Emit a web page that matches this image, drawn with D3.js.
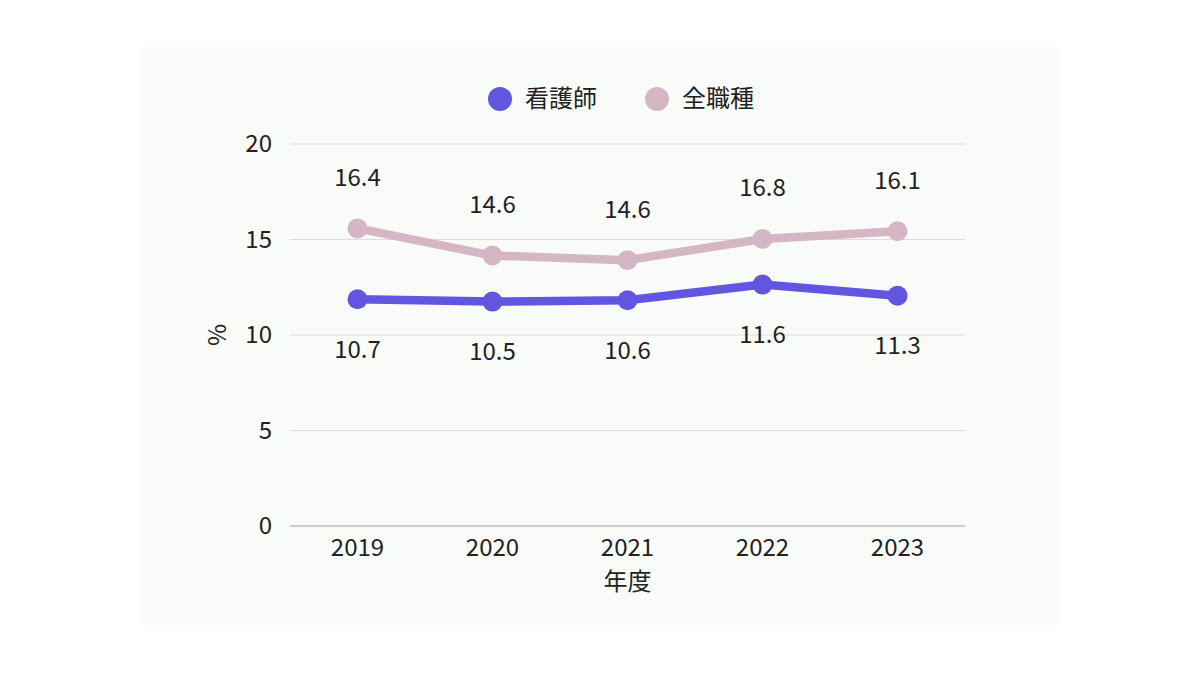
<!DOCTYPE html>
<html>
<head>
<meta charset="utf-8">
<script src="https://cdn.jsdelivr.net/npm/d3@7"></script>
<style>
  body { margin: 0; background: #ffffff; }
  text { font-family: "Noto Sans CJK JP", "Noto Sans", sans-serif; fill: #222; }
</style>
</head>
<body>
<div class="chart"></div>
<script>
// Data
const years = ["2019", "2020", "2021", "2022", "2023"];
// plotted positions as drawn in the picture
const nurseValues = [11.87, 11.75, 11.82, 12.64, 12.06];
const allValues = [15.58, 14.16, 13.92, 15.03, 15.43];
// printed value labels
const nurseLabels = ["10.7", "10.5", "10.6", "11.6", "11.3"];
const allLabels = ["16.4", "14.6", "14.6", "16.8", "16.1"];
const yTicks = [0, 5, 10, 15, 20];
const seriesNames = ["看護師", "全職種"];

const width = 1200;
const height = 675;
const margin = { top: 144, right: 235, bottom: 149, left: 290 };
const nurseColor = "#6256e0";
const allColor = "#d5b6c5";

const svg = d3.select(".chart").append("svg")
    .attr("width", width)
    .attr("height", height);

// light panel behind the chart
svg.append("rect")
    .attr("x", 140).attr("y", 47)
    .attr("width", 920).attr("height", 578)
    .attr("fill", "#f9fbf9");

const xScale = d3.scaleBand()
    .domain(years)
    .range([margin.left, width - margin.right]);

const yScale = d3.scaleLinear()
    .domain([0, 20])
    .range([height - margin.bottom, margin.top]);

// grid lines
svg.append("g")
    .selectAll("line")
    .data(yTicks)
    .enter()
    .append("line")
    .attr("x1", margin.left)
    .attr("x2", width - margin.right)
    .attr("y1", d => yScale(d))
    .attr("y2", d => yScale(d))
    .attr("stroke", d => d === 0 ? "#bdbdbd" : "#dcdcdc")
    .attr("stroke-width", d => d === 0 ? 1.6 : 1);

// y axis
const yAxis = d3.axisLeft(yScale).tickValues(yTicks).tickSize(0).tickPadding(18);
svg.append("g")
    .attr("transform", `translate(${margin.left}, 0)`)
    .call(yAxis)
    .call(g => g.select(".domain").remove())
    .selectAll("text")
    .attr("font-size", 24)
    .attr("fill", "#222");

// x axis
const xAxis = d3.axisBottom(xScale).tickSize(0).tickPadding(13);
svg.append("g")
    .attr("transform", `translate(0, ${height - margin.bottom})`)
    .call(xAxis)
    .call(g => g.select(".domain").remove())
    .selectAll("text")
    .attr("font-size", 24)
    .attr("fill", "#222");

// axis titles
svg.append("text")
    .attr("x", (margin.left + width - margin.right) / 2)
    .attr("y", 590)
    .attr("text-anchor", "middle")
    .attr("font-size", 24)
    .text("年度");

svg.append("text")
    .attr("transform", `translate(226, ${yScale(10)}) rotate(-90)`)
    .attr("text-anchor", "middle")
    .attr("font-size", 24)
    .text("%");

const cx = d => xScale(d) + xScale.bandwidth() / 2;
const line = d3.line()
    .x(d => cx(d.year))
    .y(d => yScale(d.value));

const series = [
    { name: seriesNames[1], color: allColor, values: allValues, labels: allLabels, dy: -51 },
    { name: seriesNames[0], color: nurseColor, values: nurseValues, labels: nurseLabels, dy: 50 }
];

series.forEach(s => {
    const pts = years.map((y, i) => ({ year: y, value: s.values[i], label: s.labels[i] }));
    svg.append("path")
        .datum(pts)
        .attr("d", line)
        .attr("fill", "none")
        .attr("stroke", s.color)
        .attr("stroke-width", 8.5)
        .attr("stroke-linejoin", "round");
    svg.append("g")
        .selectAll("circle")
        .data(pts)
        .enter()
        .append("circle")
        .attr("cx", d => cx(d.year))
        .attr("cy", d => yScale(d.value))
        .attr("r", 10)
        .attr("fill", s.color);
    svg.append("g")
        .selectAll("text")
        .data(pts)
        .enter()
        .append("text")
        .attr("x", d => cx(d.year))
        .attr("y", d => yScale(d.value) + s.dy)
        .attr("dy", "0.35em")
        .attr("text-anchor", "middle")
        .attr("font-size", 24)
        .text(d => d.label);
});

// legend
const legendItems = [
    { name: seriesNames[0], color: nurseColor, x: 500 },
    { name: seriesNames[1], color: allColor, x: 657 }
];
const legend = svg.append("g");
legendItems.forEach(item => {
    legend.append("circle")
        .attr("cx", item.x).attr("cy", 99)
        .attr("r", 12)
        .attr("fill", item.color);
    legend.append("text")
        .attr("x", item.x + 25).attr("y", 99)
        .attr("dy", "0.35em")
        .attr("font-size", 24)
        .text(item.name);
});
</script>
</body>
</html>
